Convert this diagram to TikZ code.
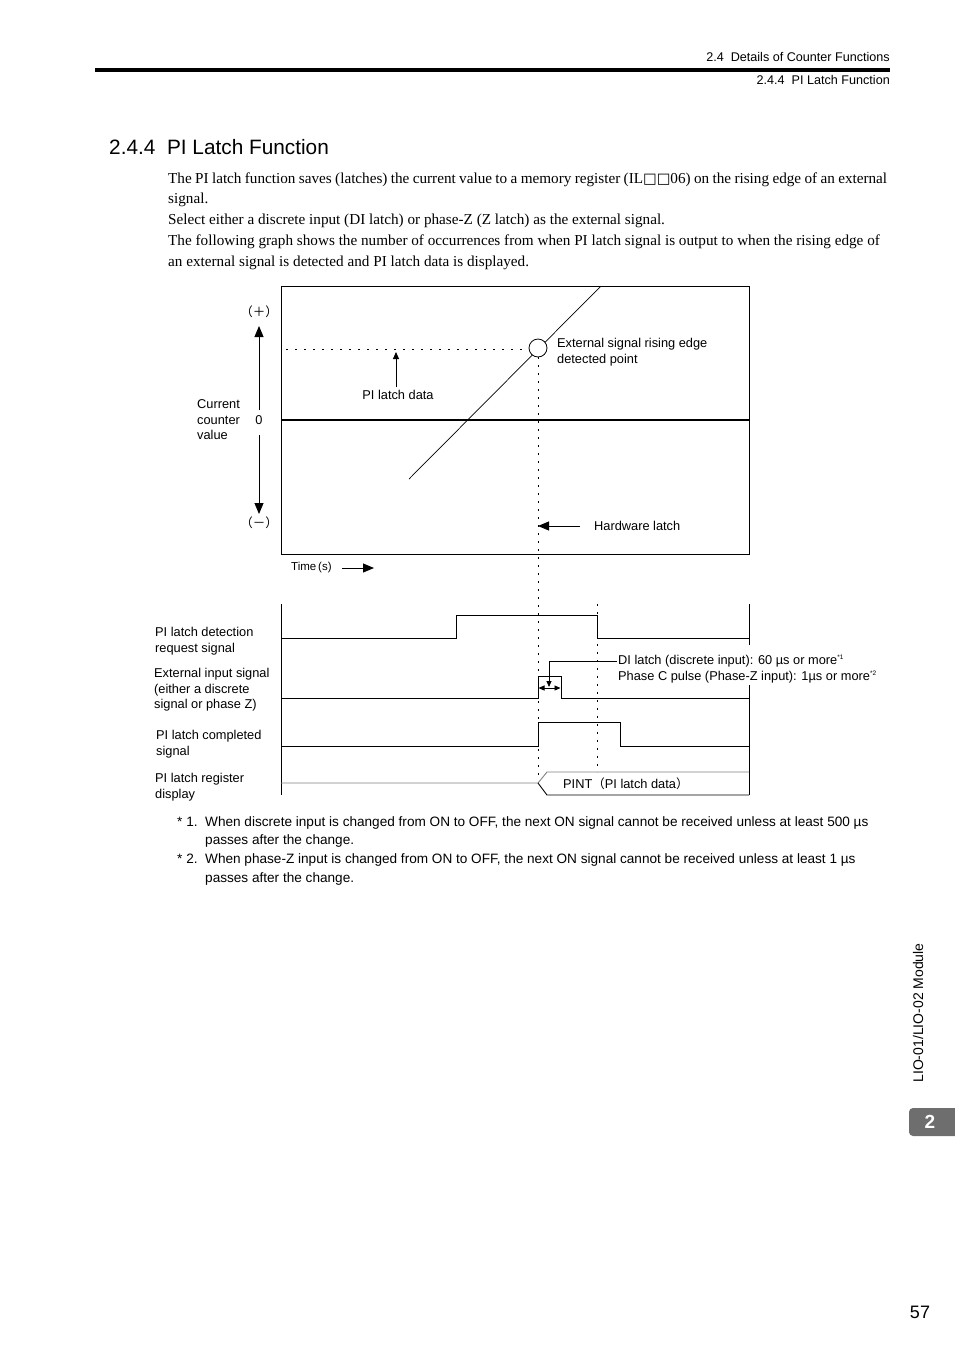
\documentclass[tikz,border=0pt]{standalone}
\usepackage{fontspec}
\setmainfont{Liberation Serif}
\setsansfont{Liberation Sans}
\newfontfamily\cjk{Noto Sans CJK JP}
\newfontfamily\dvs{DejaVu Sans}
\usetikzlibrary{arrows.meta}
\definecolor{tabgray}{HTML}{6E6E6E}
\definecolor{lgray}{HTML}{808080}
\begin{document}
\begin{tikzpicture}[x=1pt,y=-1pt,
  lbl/.style={font=\sffamily\fontsize{12.8}{15.5}\selectfont, inner sep=0pt, align=left, anchor=west},
  hdr/.style={font=\sffamily\fontsize{12.6}{14}\selectfont, inner sep=0pt, anchor=east},
  body/.style={font=\fontsize{15.2}{18}\selectfont, inner sep=0pt, anchor=base west},
  foot/.style={font=\sffamily\fontsize{13.6}{16}\selectfont, inner sep=0pt, anchor=base west},
  frame/.style={line width=0.9pt},
  sig/.style={line width=0.9pt},
  dotv/.style={line width=0.8pt, dash pattern=on 2pt off 6pt},
  bigtip/.style={-{Triangle[length=11pt,width=9pt]}, line width=0.9pt},
  smalltip/.style={-{Triangle[length=7pt,width=6pt]}, line width=0.9pt},
  tinytip/.style={{Triangle[length=6pt,width=5pt]}-{Triangle[length=6pt,width=5pt]}, line width=0.9pt}
]
\useasboundingbox (0,0) rectangle (954,1350);

% ---------- header ----------
\node[hdr] (h1) at (890,57) {2.4\ \ Details of Counter Functions};
\draw[line width=4.5pt] (95,70) -- (890,70);
\node[hdr] (h2) at (890,80) {2.4.4\ \ PI Latch Function};

% ---------- title and body ----------
\node[font=\sffamily\fontsize{20.8}{24}\selectfont, inner sep=0pt, anchor=base west] (title) at (109,154) {2.4.4\ \ PI Latch Function};
\node[body] (b1) at (168,183) {\makebox[719pt][s]{The PI latch function saves (latches) the current value to a memory register (IL{\dvs\fontsize{14.5}{16}\selectfont □□}06) on the rising edge of an external}};
\node[body] (b2) at (168,203) {signal.};
\node[body] (b3) at (168,224) {Select either a discrete input (DI latch) or phase-Z (Z latch) as the external signal.};
\node[body] (b4) at (168,245) {The following graph shows the number of occurrences from when PI latch signal is output to when the rising edge of};
\node[body] (b5) at (168,266) {an external signal is detected and PI latch data is displayed.};

% ---------- graph ----------
\draw[frame] (281,286) rectangle (749,554);
\draw[line width=2pt] (281,420) -- (749,420);
\draw[line width=0.7pt] (409,479) -- (601,286);
\draw[line width=0.8pt, dash pattern=on 2pt off 7pt] (286,349) -- (529,349);
\node[circle, draw, fill=white, line width=0.8pt, minimum size=18pt, inner sep=0pt] (det) at (538,348) {};
\coordinate (dtop) at (538,357);
\coordinate (dbot) at (538,779);
\draw[dotv] (dtop) -- (dbot);
\coordinate (d2top) at (597,604);
\coordinate (d2bot) at (597,772);
\draw[dotv] (d2top) -- (d2bot);

\node[lbl] (ext) at (557,352) {External signal rising edge\\detected point};
\node[lbl, anchor=center] (pld) at (398,395) {PI latch data};
\coordinate (pldtip) at (396,352);
\draw[smalltip] (pld.north -| pldtip) ++(0,-3) -- (pldtip);

\node[lbl, anchor=center] (plus) at (259,312) {{\cjk\fontsize{12.5}{13}\selectfont （＋）}};
\node[lbl, anchor=center] (zero) at (259,420) {0};
\node[lbl, anchor=center] (minus) at (259,523) {{\cjk\fontsize{12.5}{13}\selectfont （－）}};
\draw[bigtip] (259,410) -- (259,326);
\draw[bigtip] (259,435) -- (259,514);
\node[lbl] (ccv) at (197,420) {Current\\counter\\value};

\node[lbl] (hw) at (594,526) {Hardware latch};
\coordinate (hwtip) at (538,526);
\draw[bigtip] (580,526) -- (hwtip);

\node[lbl, font=\sffamily\fontsize{11.5}{13}\selectfont] (time) at (291,568) {Time\,(s)};
\draw[bigtip] (342,568) -- (374,568);

% ---------- timing chart ----------
\draw[frame] (281,604) -- (281,795);
\draw[frame] (749,604) -- (749,645);
\draw[frame] (749,685) -- (749,795);

% PI latch detection request
\draw[sig] (281,638) -- (456,638) -- (456,615) -- (597,615) -- (597,638) -- (749,638);
% External input
\draw[sig] (281,698) -- (538,698) -- (538,676) -- (561,676) -- (561,698) -- (749,698);
% PI latch completed
\draw[sig] (281,746) -- (538,746) -- (538,722) -- (620,722) -- (620,746) -- (749,746);
% register display
\draw[line width=0.9pt, lgray] (281,783) -- (538,783) -- (547,772) -- (749,772);
\draw[line width=0.9pt] (538,783) -- (547,795) -- (749,795);
\node[lbl] (pint) at (563,784) {PINT{\cjk\fontsize{12.5}{14}\selectfont （}PI latch data{\cjk\fontsize{12.5}{14}\selectfont ）}};

% pulse width annotation
\draw[tinytip] (538.5,688) -- (560.5,688);
\node[lbl] (dil) at (618,661) {DI latch (discrete input): 60 µs or more\textsuperscript{\fontsize{6.5}{7}\selectfont *1}};
\node[lbl] (phc) at (618,677) {Phase C pulse (Phase-Z input): 1µs or more\textsuperscript{\fontsize{6.5}{7}\selectfont *2}};
\draw[line width=0.8pt, -{Triangle[length=6pt,width=5pt]}] ([xshift=-1pt]dil.west) -- (549,661) -- (549,687);

\node[lbl] (l1) at (155,641) {PI latch detection\\request signal};
\node[lbl] (l2) at (154,690) {External input signal\\(either a discrete\\signal or phase Z)};
\node[lbl] (l3) at (156,744) {PI latch completed\\signal};
\node[lbl] (l4) at (155,787) {PI latch register\\display};

% ---------- footnotes ----------
\node[foot] (f1a) at (177,826) {* 1.};
\node[foot] (f1b) at (205,826) {When discrete input is changed from ON to OFF, the next ON signal cannot be received unless at least 500 µs};
\node[foot] (f1c) at (205,844) {passes after the change.};
\node[foot] (f2a) at (177,863) {* 2.};
\node[foot] (f2b) at (205,863) {When phase-Z input is changed from ON to OFF, the next ON signal cannot be received unless at least 1 µs};
\node[foot] (f2c) at (205,882) {passes after the change.};

% ---------- side tab ----------
\node[font=\sffamily\fontsize{14}{16}\selectfont, inner sep=0pt, rotate=90] (side) at (918,1013) {LIO-01/LIO-02 Module};
\fill[tabgray, rounded corners=4pt] (909,1108) rectangle (965,1136);
\node[font=\sffamily\bfseries\fontsize{19}{22}\selectfont, text=white, inner sep=0pt] (tabnum) at (930,1122) {2};
\node[font=\sffamily\fontsize{18}{20}\selectfont, inner sep=0pt] (page) at (920,1312) {57};
\end{tikzpicture}
\end{document}
